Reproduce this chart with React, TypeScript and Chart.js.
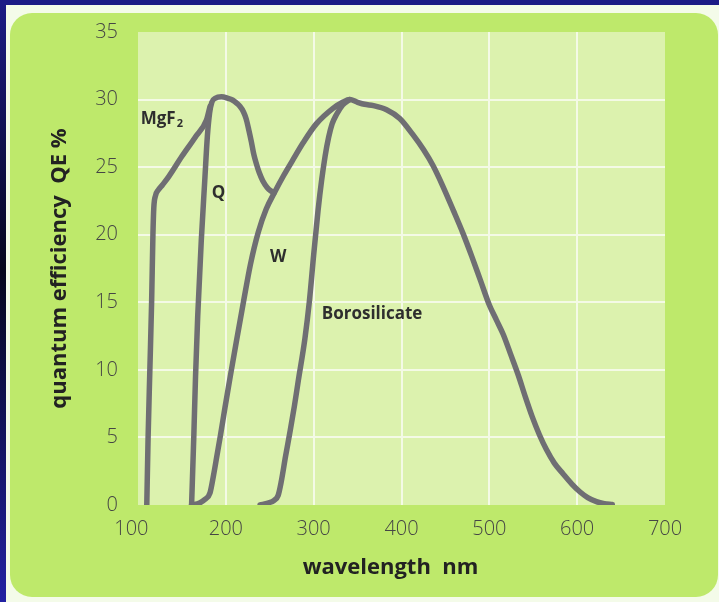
import React, { useEffect, useRef } from "react";
import { Chart, registerables } from "chart.js";

Chart.register(...registerables);

// ---- Data (wavelength nm, quantum efficiency %) ----
const mgf2X = [110, 111.5, 113.5, 115.5, 117, 118, 120, 123, 128, 135, 150, 165, 178, 182];
const mgf2Y = [0, 5, 10, 15, 20, 22, 22.9, 23.3, 23.7, 24.3, 25.8, 27.2, 28.5, 29.5];

const quartzX = [161, 163.5, 165.5, 168, 172, 176, 179, 181.5, 184, 188, 195, 202, 208, 212, 216, 220, 223, 226, 229, 232, 235, 238, 242, 247, 251, 255];
const quartzY = [0, 5, 9.5, 14, 19.5, 24, 27.3, 29.0, 29.8, 30.1, 30.2, 30.1, 29.95, 29.75, 29.5, 29.1, 28.6, 27.8, 26.9, 25.9, 25.2, 24.6, 24.0, 23.5, 23.25, 23.1];

const wX = [161, 170, 176, 182, 186, 190, 194, 199, 205, 212, 220, 228, 237, 246, 256, 266, 276, 288, 303, 322, 333, 341, 350, 358, 368, 383, 398, 413, 425, 436, 447, 459, 470, 480, 490, 500, 508, 516, 524, 533, 541, 549, 557, 565, 574, 584, 594, 603, 612, 622, 631, 640];
const wY = [0, 0.15, 0.4, 0.9, 2.2, 3.7, 5.2, 7.2, 9.5, 12.1, 15, 17.8, 20.2, 21.9, 23.2, 24.4, 25.5, 26.8, 28.2, 29.35, 29.8, 30, 29.8, 29.65, 29.55, 29.25, 28.6, 27.4, 26.3, 25.1, 23.6, 21.8, 20.1, 18.4, 16.6, 14.8, 13.7, 12.6, 11.2, 9.6, 8.0, 6.5, 5.2, 4.1, 3.1, 2.3, 1.55, 0.98, 0.55, 0.25, 0.1, 0.03];

const boroX = [239, 248, 255, 259.5, 263, 268, 273, 278, 282.5, 290, 295, 300, 305, 309, 313, 317, 321, 326, 333, 341];
const boroY = [0, 0.15, 0.35, 0.7, 1.7, 3.6, 5.4, 7.3, 9.2, 12.3, 15, 18.5, 21.8, 24, 25.8, 27.2, 28.2, 28.9, 29.6, 30];

const xTicks = [100, 200, 300, 400, 500, 600, 700];
const yTicks = [0, 5, 10, 15, 20, 25, 30, 35];

const labelTexts = ["MgF", "Q", "W", "Borosilicate"];
const labelSubs = ["2", "", "", ""];
const labelX = [103.1, 183.9, 250.3, 309.2];
const labelY = [28.2, 22.7, 18.0, 13.8];

const toPoints = (xs: number[], ys: number[]) => xs.map((x, i) => ({ x, y: ys[i] }));

const LINE = "#6f6e73";
const FONT = "'Open Sans', 'DejaVu Sans', sans-serif";

const backgroundPlugin = {
  id: "panelBackground",
  beforeDraw(chart: any) {
    const { ctx, width, height, chartArea } = chart;
    ctx.save();
    const g = ctx.createLinearGradient(0, 0, 0, height);
    g.addColorStop(0, "#1c1b86");
    g.addColorStop(0.45, "#05051c");
    g.addColorStop(1, "#2222a2");
    ctx.fillStyle = g;
    ctx.fillRect(0, 0, width, height);
    ctx.fillStyle = "#1c1b86";
    ctx.fillRect(0, 0, width, 5);
    ctx.fillStyle = "#f4fbe9";
    ctx.fillRect(6, 5, width - 6, height - 5);
    // green rounded panel
    const x0 = 10, y0 = 13, x1 = 718, y1 = 597, r = 22;
    ctx.beginPath();
    ctx.moveTo(x0 + r, y0);
    ctx.lineTo(x1 - r, y0);
    ctx.arcTo(x1, y0, x1, y0 + r, r);
    ctx.lineTo(x1, y1 - r);
    ctx.arcTo(x1, y1, x1 - r, y1, r);
    ctx.lineTo(x0 + r, y1);
    ctx.arcTo(x0, y1, x0, y1 - r, r);
    ctx.lineTo(x0, y0 + r);
    ctx.arcTo(x0, y0, x0 + r, y0, r);
    ctx.closePath();
    ctx.fillStyle = "#bee96b";
    ctx.fill();
    // plot area
    ctx.fillStyle = "#dcf2ae";
    ctx.fillRect(chartArea.left, chartArea.top, chartArea.right - chartArea.left, chartArea.bottom - chartArea.top);
    ctx.restore();
  },
};

const labelPlugin = {
  id: "curveLabels",
  afterDatasetsDraw(chart: any) {
    const { ctx, scales } = chart;
    ctx.save();
    ctx.fillStyle = "#2e2e2e";
    ctx.textAlign = "left";
    ctx.textBaseline = "alphabetic";
    labelTexts.forEach((t, i) => {
      const px = scales.x.getPixelForValue(labelX[i]);
      const py = scales.y.getPixelForValue(labelY[i]);
      ctx.font = `bold 17px ${FONT}`;
      ctx.fillText(t, px, py);
      if (labelSubs[i]) {
        const w = ctx.measureText(t).width;
        ctx.font = `bold 11px ${FONT}`;
        ctx.fillText(labelSubs[i], px + w + 1, py + 3);
      }
    });
    ctx.restore();
  },
};

export default function App() {
  const ref = useRef<HTMLCanvasElement | null>(null);

  useEffect(() => {
    if (!ref.current) return;
    const ds = (label: string, xs: number[], ys: number[]) => ({
      label,
      data: toPoints(xs, ys),
      borderColor: LINE,
      borderWidth: 5.5,
      pointRadius: 0,
      fill: false,
      cubicInterpolationMode: "monotone" as const,
      borderCapStyle: "round" as const,
      borderJoinStyle: "round" as const,
    });
    const edgeColor = (edges: number[]) => (c: any) =>
      c.tick && edges.includes(c.tick.value) ? "rgba(0,0,0,0)" : "#f4fae6";

    const chart = new Chart(ref.current, {
      type: "line",
      data: {
        datasets: [
          ds("MgF2", mgf2X, mgf2Y),
          ds("Q", quartzX, quartzY),
          ds("W", wX, wY),
          ds("Borosilicate", boroX, boroY),
        ],
      },
      options: {
        animation: false,
        responsive: false,
        events: [],
        layout: { padding: { left: 0, right: 54, top: 31, bottom: 0 } },
        plugins: { legend: { display: false }, tooltip: { enabled: false } },
        scales: {
          x: {
            type: "linear",
            min: 100,
            max: 700,
            afterBuildTicks: (s: any) => {
              s.ticks = xTicks.map((v) => ({ value: v }));
            },
            afterFit: (s: any) => {
              s.height = 97;
            },
            grid: { color: edgeColor([100, 700]), lineWidth: 2, drawTicks: false },
            border: { display: false },
            ticks: {
              padding: 12,
              color: "#454545",
              font: { family: FONT, size: 20, weight: "300" },
              maxRotation: 0,
              callback: (v: any) => (v === 100 ? "100\u2002\u2009" : String(v)),
            },
            title: {
              display: true,
              text: "wavelength  nm\u2003",
              color: "#222",
              font: { family: FONT, size: 22, weight: "bold" },
              padding: { top: 0, bottom: 21 },
            },
          },
          y: {
            type: "linear",
            min: 0,
            max: 35,
            afterBuildTicks: (s: any) => {
              s.ticks = yTicks.map((v) => ({ value: v }));
            },
            afterFit: (s: any) => {
              s.width = 138;
            },
            grid: { color: edgeColor([0, 35]), lineWidth: 2, drawTicks: false },
            border: { display: false },
            ticks: {
              padding: 20,
              color: "#454545",
              font: { family: FONT, size: 20, weight: "300" },
            },
            title: {
              display: true,
              text: "quantum efficiency  QE %",
              color: "#222",
              font: { family: FONT, size: 22, weight: "bold" },
              padding: { top: 47, bottom: 0 },
            },
          },
        },
      },
      plugins: [backgroundPlugin, labelPlugin],
    });
    return () => chart.destroy();
  }, []);

  return (
    <div style={{ position: "absolute", left: 0, top: 0, width: 719, height: 602 }}>
      <canvas ref={ref} width={719} height={602} style={{ display: "block", width: 719, height: 602 }} />
    </div>
  );
}
